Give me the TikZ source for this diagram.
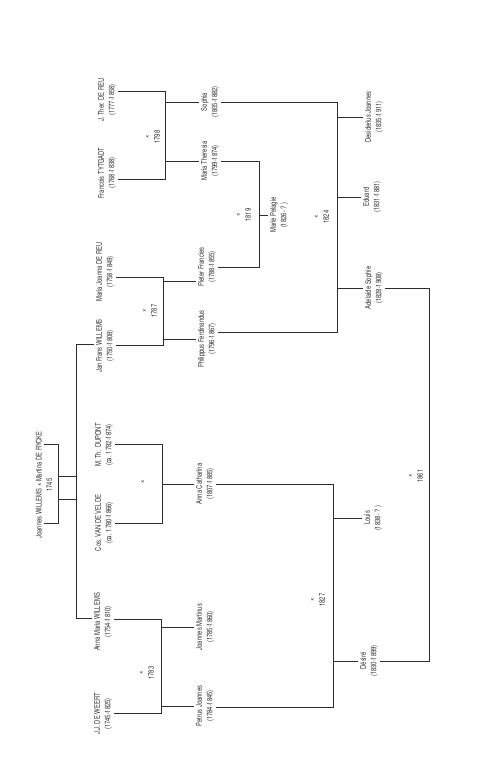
\documentclass[tikz,border=0pt]{standalone}
\usepackage{fontspec}
\setmainfont{TeX Gyre Heros}[FakeStretch=0.75]
\definecolor{ink}{RGB}{45,45,45}

\begin{document}
\begin{tikzpicture}[x=1pt,y=-1pt,
  persoon/.style={rotate=90, align=center, text=ink, inner sep=2pt,
    font=\fontsize{7.8}{10.5}\selectfont},
  every path/.style={draw=ink, line width=0.6pt}]
\useasboundingbox[draw=none] (0,0) rectangle (500,782);

\node[persoon] (reu) at (107,100) {J. Ther. DE REU\\(1777-1858)};
\node[persoon] (tytgadt) at (107,173) {Francois TYTGADT\\(1768-1838)};
\node[persoon] (h1798) at (153,137) {×\\1798};
\node[persoon] (sophia) at (210,102) {Sophia\\(1805-1882)};
\node[persoon] (theresia) at (210,161) {Maria Theresia\\(1799-1874)};
\node[persoon] (desiderius) at (374,117) {Desiderius Joannes\\(1835-1911)};
\node[persoon] (eduard) at (372,197) {Eduard\\(1831-1881)};
\node[persoon] (joanna) at (105,272) {Maria Joanna DE REU\\(1758-1849)};
\node[persoon] (janfrans) at (105,346) {Jan Frans WILLEMS\\(1750-1808)};
\node[persoon] (h1787) at (150,311) {×\\1787};
\node[persoon] (pieter) at (207,267) {Pieter Francies\\(1788-1855)};
\node[persoon] (philippus) at (207,339) {Philippus Ferdinandus\\(1796-1867)};
\node[persoon] (h1819) at (244,215) {×\\1819};
\node[persoon] (pelagie) at (279,215) {Marie Pelagie\\(1826- ? )};
\node[persoon] (h1824) at (322,217) {×\\1824};
\node[persoon] (adelaide) at (374,288) {Adelaide Sophie\\(1828-1908)};
\node[persoon] (stam) at (44,485) {Joannes WILLEMS × Martina DE RYCKE\\1745};
\node[persoon] (dupont) at (104,445) {M. Th. DUPONT\\(ca. 1782-1874)};
\node[persoon] (velde) at (104,523) {Cos. VAN DE VELDE\\(ca. 1780-1866)};
\node[persoon] (hx) at (143,482) {×};
\node[persoon] (catharina) at (205,484) {Anna Catharina\\(1807-1885)};
\node[persoon] (louis) at (373,518) {Louis\\(1838- ? )};
\node[persoon] (h1861) at (416,476) {×\\1861};
\node[persoon] (h1827) at (318,600) {×\\1827};
\node[persoon] (annamaria) at (103,622) {Anna Maria WILLEMS\\(1754-1810)};
\node[persoon] (weert) at (103,714) {J.J. DE WEERT\\(1745-1825)};
\node[persoon] (h1783) at (147,673) {×\\1783};
\node[persoon] (martinus) at (205,627) {Joannes Martinus\\(1785-1860)};
\node[persoon] (petrus) at (205,706) {Petrus Joannes\\(1784-1845)};
\node[persoon] (desire) at (369,661) {Désiré\\(1830-1899)};

% stamouders
\coordinate (t1745) at (58,444);
\coordinate (b1745) at (58,523);
\coordinate (ja) at (76,476);
\coordinate (jb) at (76,499);
\coordinate (tw) at (76,344);
\coordinate (bw) at (76,618);
\draw (stam.center |- t1745) -- (t1745) -- (b1745) -- (stam.center |- b1745);
\draw (t1745 |- ja) -- (ja);
\draw (t1745 |- jb) -- (jb);
\draw (janfrans.north |- tw) -- (tw) -- (bw) -- (annamaria.north |- bw);

% 1798
\coordinate (t1798) at (165,91);
\coordinate (b1798) at (165,179);
\draw (reu.south |- t1798) -- (t1798) -- (b1798) -- (tytgadt.south |- b1798);
\draw (t1798 |- sophia) -- (sophia.north);
\draw (t1798 |- theresia) -- (theresia.north);

% 1787
\coordinate (t1787) at (163,277);
\coordinate (b1787) at (163,345);
\coordinate (k1787) at (163,281);
\draw (joanna.south |- t1787) -- (t1787) -- (b1787) -- (janfrans.south |- b1787);
\draw (k1787) -- (pieter.north |- k1787);
\draw (t1787 |- philippus) -- (philippus.north);

% 1819
\coordinate (t1819) at (259,161);
\coordinate (b1819) at (259,267);
\draw (theresia.south) -- (t1819) -- (b1819) -- (pieter.south);
\draw (t1819 |- pelagie) -- (pelagie.north);

% 1824
\coordinate (t1824) at (337,102);
\coordinate (b1824) at (337,332);
\draw (sophia.south) -- (t1824) -- (b1824) -- (philippus.south |- b1824);
\draw (t1824 |- desiderius) -- (desiderius.north);
\draw (t1824 |- eduard) -- (eduard.north);
\draw (t1824 |- adelaide) -- (adelaide.north);

% x
\coordinate (tx) at (162,444);
\coordinate (bx) at (162,523);
\draw (dupont.south |- tx) -- (tx) -- (bx) -- (velde.south |- bx);
\draw (tx |- catharina) -- (catharina.north);

% 1783
\coordinate (t1783) at (161,619);
\coordinate (b1783) at (161,713);
\draw (annamaria.south |- t1783) -- (t1783) -- (b1783) -- (weert.south |- b1783);
\draw (t1783 |- martinus) -- (martinus.north);
\draw (t1783 |- petrus) -- (petrus.north);

% 1827
\coordinate (t1827) at (333,484);
\coordinate (b1827) at (333,707);
\draw (catharina.south) -- (t1827) -- (b1827) -- (petrus.south |- b1827);
\draw (t1827 |- louis) -- (louis.north);
\draw (t1827 |- desire) -- (desire.north);

% 1861
\coordinate (t1861) at (429,288);
\coordinate (b1861) at (429,661);
\draw (adelaide.south) -- (t1861) -- (b1861) -- (desire.south);

\end{tikzpicture}
\end{document}
